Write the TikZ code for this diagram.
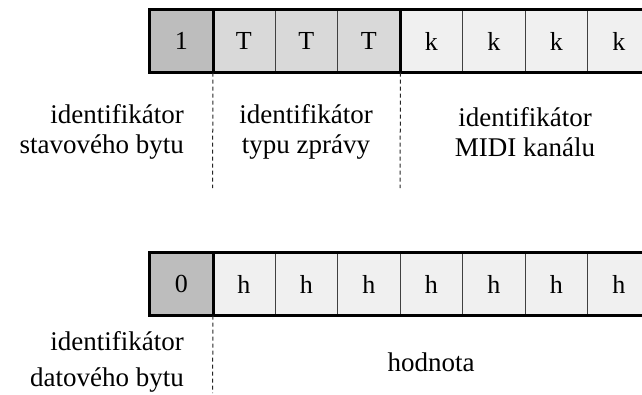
\documentclass[tikz,border=0pt]{standalone}
\usepackage{fontspec}
\setmainfont{Liberation Serif}
\definecolor{flagcell}{HTML}{BDBDBD}
\definecolor{typecell}{HTML}{D9D9D9}
\definecolor{datacell}{HTML}{F0F0F0}
\definecolor{cellline}{HTML}{404040}
\begin{document}
\begin{tikzpicture}[x=1pt,y=-1pt,
  bitcell/.style={draw=cellline, line width=1pt, minimum width=62.5pt,
    minimum height=62pt, inner sep=0pt, font=\fontsize{26}{30}\selectfont},
  frameline/.style={line width=3pt, line cap=rect},
  guide/.style={line width=1pt, draw=black!85, dash pattern=on 4pt off 3pt},
  lbl/.style={inner sep=0pt, font=\fontsize{27}{30}\selectfont}]
\useasboundingbox (0,0) rectangle (642,394);
\clip (0,0) rectangle (642,394);

% status byte: 1 TTT kkkk
\foreach \i/\t/\f in {1/1/flagcell, 2/T/typecell, 3/T/typecell, 4/T/typecell,
                      5/k/datacell, 6/k/datacell, 7/k/datacell, 8/k/datacell}
  \node[bitcell, fill=\f] (s\i) at ({181.25+62.5*(\i-1)},41) {\t};
\draw[frameline] (s1.north west) rectangle (s8.south east);
\draw[frameline] (s1.north east) -- (s1.south east);
\draw[frameline] (s4.north east) -- (s4.south east);

% data byte: 0 hhhhhhh
\foreach \i/\t/\f in {1/0/flagcell, 2/h/datacell, 3/h/datacell, 4/h/datacell,
                      5/h/datacell, 6/h/datacell, 7/h/datacell, 8/h/datacell}
  \node[bitcell, fill=\f] (d\i) at ({181.25+62.5*(\i-1)},284) {\t};
\draw[frameline] (d1.north west) rectangle (d8.south east);
\draw[frameline] (d1.north east) -- (d1.south east);

% field separators
\coordinate (ga) at (212.5,188);
\coordinate (gb) at (400,188);
\coordinate (gc) at (212.5,393);
\draw[guide] (s1.south east) -- (ga);
\draw[guide] (s4.south east) -- (gb);
\draw[guide] (d1.south east) -- (gc);

% field descriptions
\node[lbl, align=right, anchor=east] (ls1) at (184,132) {identifikátor\\stavového bytu};
\node[lbl, align=center] (ls2) at (306,132) {identifikátor\\typu zprávy};
\node[lbl, align=center] (ls3) at (525,132) {identifikátor\\MIDI kanálu};
\node[lbl, align=right, anchor=east, font=\fontsize{27}{36}\selectfont] (ld1) at (184,362) {identifikátor\\datového bytu};
\node[lbl] (ld2) at (431,362) {hodnota};
\end{tikzpicture}
\end{document}
